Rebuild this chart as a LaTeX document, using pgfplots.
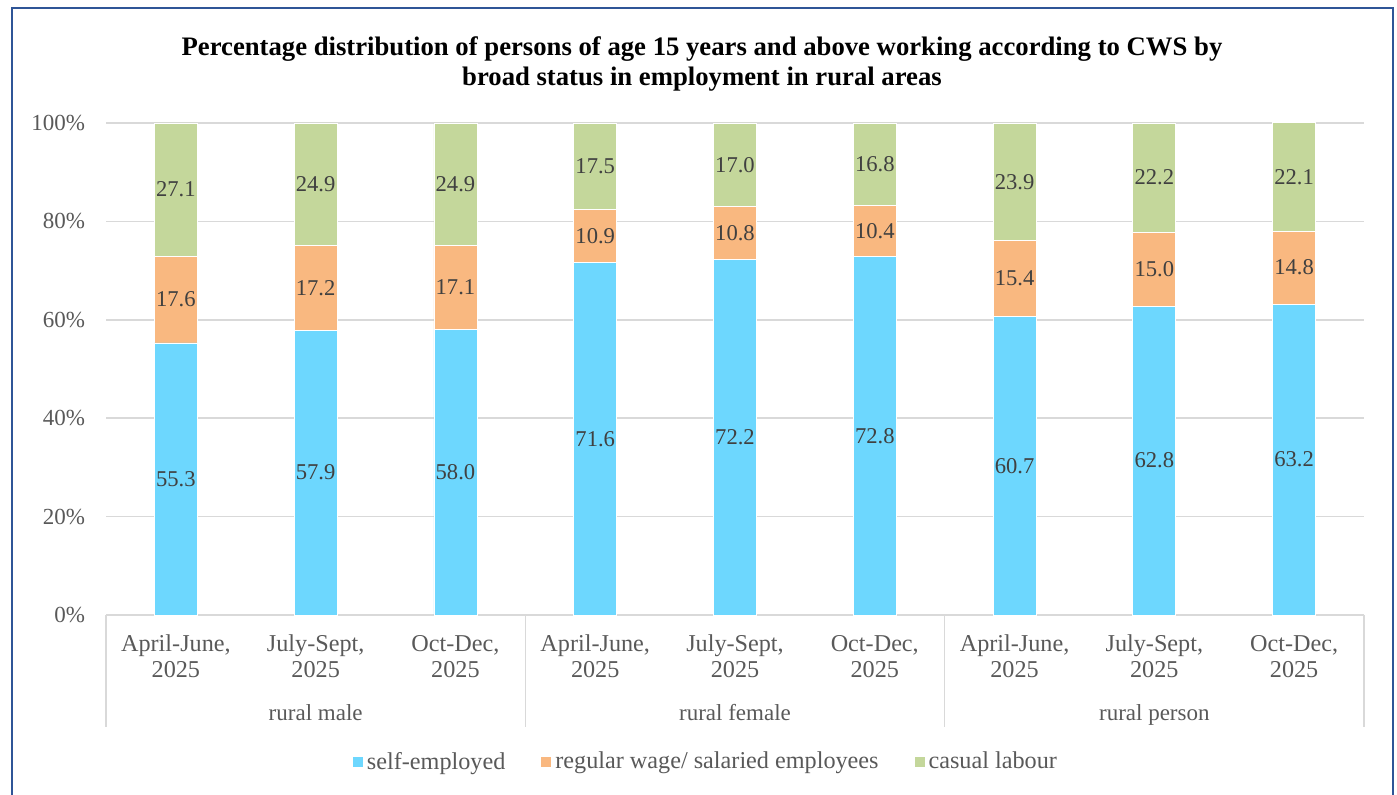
\documentclass[border=0pt]{standalone}
\usepackage{pgfplots}
\pgfplotsset{compat=1.18}
\usepackage{pgfplotstable}
\usepackage{fontspec}
\setmainfont{Liberation Serif}

\definecolor{selfemp}{HTML}{6DD7FE}
\definecolor{regwage}{HTML}{F9B880}
\definecolor{casual}{HTML}{C4D79B}
\definecolor{gridgrey}{HTML}{D9D9D9}
\definecolor{txtgrey}{HTML}{595959}
\definecolor{lblgrey}{HTML}{404040}
\definecolor{frameblue}{HTML}{2F5597}

% share of workers (%) by status, rural areas
\pgfplotstableread{
x self reg cas
0 55.3 17.6 27.1
1 57.9 17.2 24.9
2 58.0 17.1 24.9
3 71.6 10.9 17.5
4 72.2 10.8 17.0
5 72.8 10.4 16.8
6 60.7 15.4 23.9
7 62.8 15.0 22.2
8 63.2 14.8 22.1
}\rural

\newcommand{\lblfont}{\fontsize{11.5}{13}\selectfont}
\newcommand{\catfont}{\fontsize{12.1}{13}\selectfont}

\begin{document}
\begin{tikzpicture}
\useasboundingbox (0,0) rectangle (698.5pt,-397.5pt);
\clip (0,0) rectangle (698.5pt,-397.5pt);
\draw[frameblue, line width=1.2pt] (6pt,-4pt) rectangle (696.5pt,-420pt);
\node[align=center, font=\fontsize{13.35}{15}\selectfont\bfseries] at (351pt,-32pt)
  {Percentage distribution of persons of age 15 years and above working according to CWS by\\broad status in employment in rural areas};

\begin{axis}[
  at={(53pt,-307.5pt)}, anchor=south west,
  scale only axis, width=629pt, height=246pt,
  ybar stacked, bar width=21.5pt,
  xmin=-0.5, xmax=8.5, ymin=0, ymax=100,
  enlargelimits=false, clip=false,
  axis x line*=bottom, axis y line*=left,
  x axis line style={gridgrey, line width=0.75pt},
  y axis line style={draw=none},
  major tick length=0pt,
  ymajorgrids, grid style={gridgrey, line width=0.75pt},
  ytick={0,20,...,100},
  yticklabel={\pgfmathprintnumber{\tick}\%},
  /pgf/number format/assume math mode=true,
  yticklabel style={font=\lblfont, text=txtgrey, xshift=-7pt},
  xtick={0,...,8},
  xticklabels={{April-June,\\2025},{July-Sept,\\2025},{Oct-Dec,\\2025},
               {April-June,\\2025},{July-Sept,\\2025},{Oct-Dec,\\2025},
               {April-June,\\2025},{July-Sept,\\2025},{Oct-Dec,\\2025}},
  xticklabel style={align=center, font=\catfont, text=txtgrey, yshift=-6.5pt},
  nodes near coords={\pgfmathprintnumber[fixed,fixed zerofill,precision=1]{\val}},
  every node near coord/.append style={anchor=center,
    font=\fontsize{11.3}{13}\selectfont, text=lblgrey},
  legend style={draw=none, legend columns=3, at={(0.4777,0)}, anchor=center,
    yshift=-73.5pt, font=\catfont, text=txtgrey,
    /tikz/every even column/.append style={column sep=16pt}},
  legend image code/.code={\fill[#1,draw=none] (0pt,-2.5pt) rectangle (5pt,2.5pt);},
]
\addplot[fill=selfemp, draw=white, line width=0.4pt,
  visualization depends on={\thisrow{self} \as \val}] table[x=x,y=self]{\rural};
\addplot[fill=regwage, draw=white, line width=0.4pt,
  visualization depends on={\thisrow{reg} \as \val}] table[x=x,y=reg]{\rural};
\addplot[fill=casual, draw=white, line width=0.4pt,
  visualization depends on={\thisrow{cas} \as \val}] table[x=x,y=cas]{\rural};
\legend{self-employed, regular wage/ salaried employees, casual labour}

\draw[gridgrey, line width=0.75pt] (axis cs:-0.5,0) -- ++(0pt,-56pt);
\draw[gridgrey, line width=0.75pt] (axis cs:2.5,0) -- ++(0pt,-56pt);
\draw[gridgrey, line width=0.75pt] (axis cs:5.5,0) -- ++(0pt,-56pt);
\draw[gridgrey, line width=0.75pt] (axis cs:8.5,0) -- ++(0pt,-56pt);
\node[text=txtgrey, font=\lblfont, anchor=base, yshift=-52.5pt] at (axis cs:1,0) {rural male};
\node[text=txtgrey, font=\lblfont, anchor=base, yshift=-52.5pt] at (axis cs:4,0) {rural female};
\node[text=txtgrey, font=\lblfont, anchor=base, yshift=-52.5pt] at (axis cs:7,0) {rural person};
\end{axis}
\end{tikzpicture}
\end{document}
